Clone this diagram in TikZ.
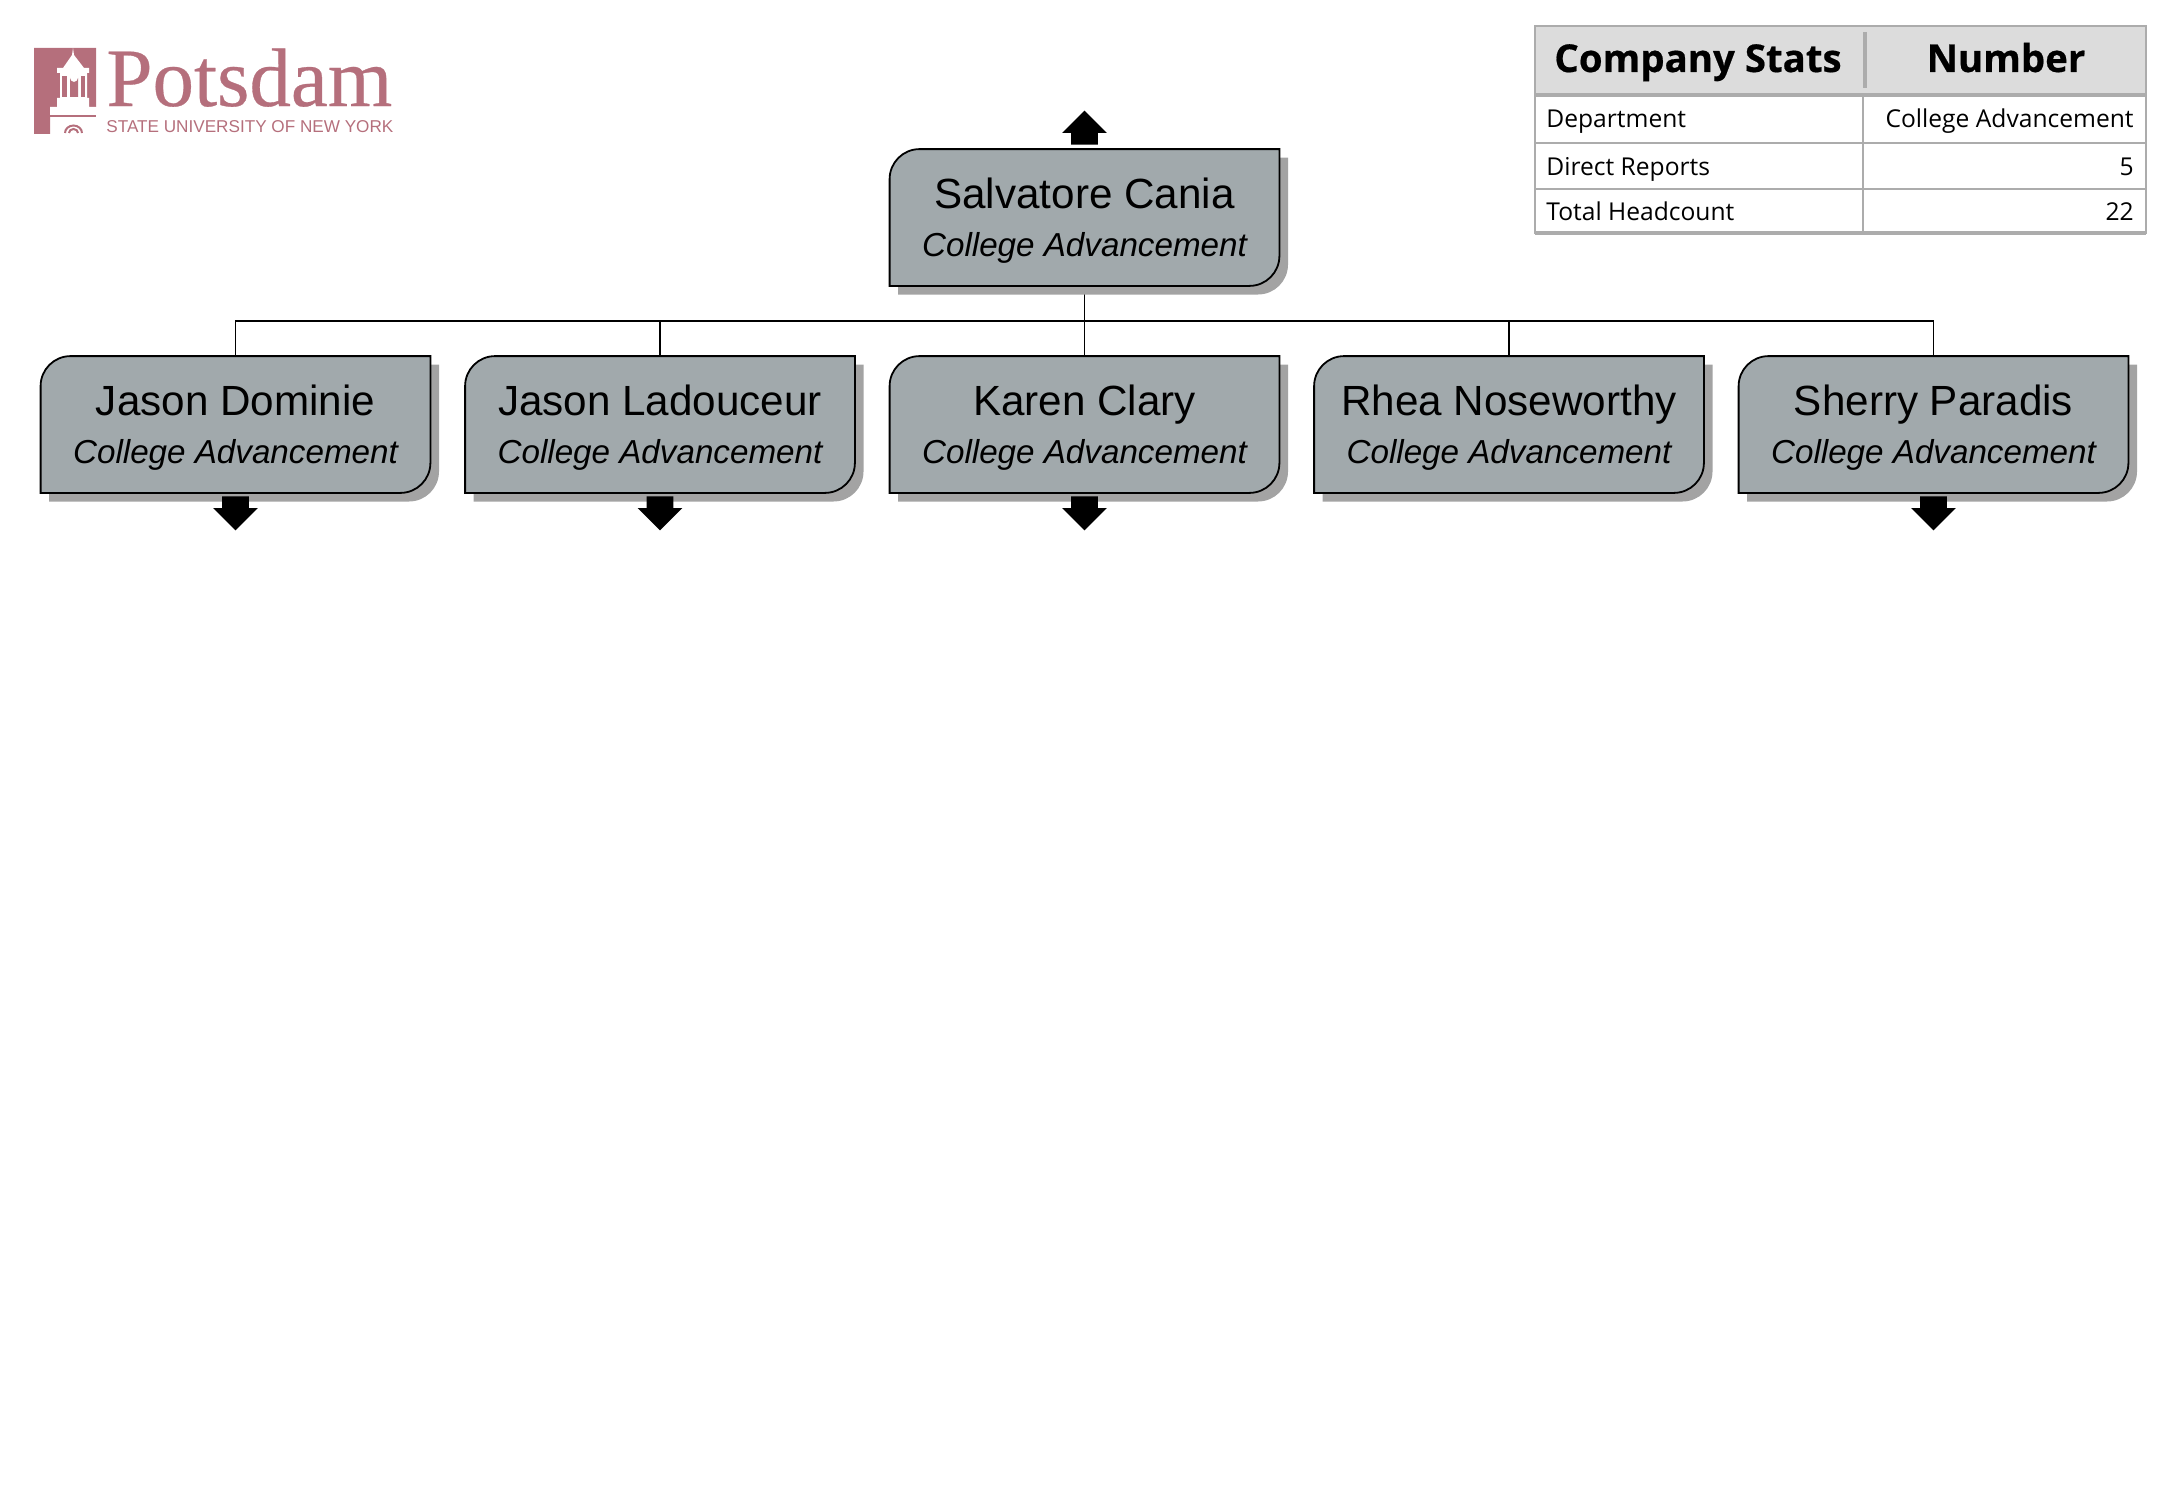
\documentclass[tikz,border=0pt]{standalone}
\usepackage{fontspec}
\setmainfont{Liberation Sans}
\newfontfamily\statsfont{Open Sans}
\newfontfamily\statsheadfont[FakeBold=0.5]{Open Sans Bold}
\newfontfamily\logofont[FakeBold=0.35]{Liberation Serif}
\usepackage{tikz}
\usetikzlibrary{shapes,backgrounds}
\definecolor{boxgray}{HTML}{A1A9AC}
\definecolor{shadegray}{HTML}{A3A3A3}
\definecolor{headgray}{HTML}{DCDCDC}
\definecolor{rulegray}{HTML}{ACACAC}
\definecolor{logopink}{HTML}{B56F7C}
\pgfdeclarelayer{wires}
\pgfsetlayers{wires,background,main}

% one person box: name, x, y, person
\newcommand{\personbox}[4]{
	\node[org-node] (#1) at (#2,#3) {\rule{0pt}{18.5pt}#4\\[-0.3pt]{\fontsize{16.6}{18}\selectfont\itshape College Advancement}};
	\begin{pgfonlayer}{background}
		\fill[shadegray,rounded corners=15pt] ([shift={(4.3pt,-4.3pt)}]#1.north west) {[sharp corners] -- ([shift={(4.3pt,-4.3pt)}]#1.north east)} -- ([shift={(4.3pt,-4.3pt)}]#1.south east) {[sharp corners] -- ([shift={(4.3pt,-4.3pt)}]#1.south west)} -- cycle;
		\draw[fill=boxgray,line width=0.9pt,rounded corners=15pt] (#1.south west) -- (#1.north west) {[sharp corners] -- (#1.north east)} -- (#1.south east) {[sharp corners] -- (#1.south west)} -- cycle;
	\end{pgfonlayer}
}

\begin{document}
\begin{tikzpicture}[x=0.5pt,y=-0.5pt]

	\tikzstyle{org-node}=[align=center,inner sep=0pt,minimum width=194.5pt,minimum height=68pt,font=\fontsize{21.1}{24}\selectfont]
	\tikzstyle{up-arrow}=[single arrow,fill=black,inner xsep=0pt,inner ysep=6.5pt,minimum width=22pt,minimum height=17pt,single arrow head extend=4.5pt,rotate=90,anchor=tip]
	\tikzstyle{down-arrow}=[up-arrow,rotate=180]
	\tikzstyle{stat-head}=[font=\statsheadfont\fontsize{19.2}{20}\selectfont,inner sep=0pt,anchor=base]
	\tikzstyle{stat-left}=[font=\statsfont\fontsize{12.3}{14}\selectfont,inner sep=0pt,anchor=base west]
	\tikzstyle{stat-right}=[font=\statsfont\fontsize{12.3}{14}\selectfont,inner sep=0pt,anchor=base east]

	\useasboundingbox (0,0) rectangle (2167,1504);

	% logo
	\fill[logopink] (34,48) -- (96,48) -- (96,107) -- (50,107) -- (50,134) -- (34,134) -- cycle;
	\fill[logopink] (50,115) rectangle (96,117);
	\fill[white] (73,48) -- (74,55) -- (84,68) -- (89,68) -- (89,73) -- (87,73) -- (87,98) -- (89,98) -- (89,107) -- (96,107) -- (96,115) -- (50,115) -- (50,107) -- (57,107) -- (57,98) -- (60,98) -- (60,73) -- (57,73) -- (57,68) -- (63,68) -- (72,55) -- cycle;
	\fill[logopink] (62,76) rectangle (67,97);
	\fill[logopink] (70,97) -- (70,78) arc[start angle=180,end angle=0,radius=4] -- (78,97) -- cycle;
	\fill[logopink] (81,76) rectangle (85,97);
	\draw[logopink,line width=1pt] (65,133) arc[start angle=180,end angle=0,x radius=8.5,y radius=-7.5];
	\draw[logopink,line width=1pt] (69,133) arc[start angle=180,end angle=0,x radius=4.5,y radius=-4];
	\node[font=\logofont\fontsize{41.5}{44}\selectfont,text=logopink,inner sep=0pt,anchor=base west] (logoname) at (106,106) {Potsdam};
	\node[font=\fontsize{8.57}{10}\selectfont,text=logopink,inner sep=0pt,anchor=base west] (logosub) at (106,133) {STATE UNIVERSITY OF NEW YORK};

	% stats table
	\fill[headgray] (1535,26) rectangle (2146,95);
	\draw[rulegray,line width=1.2pt] (1535,26) rectangle (2146,233);
	\draw[rulegray,line width=1.7pt] (1535,95) -- (2146,95);
	\draw[rulegray,line width=1.7pt] (1535,233) -- (2146,233);
	\draw[rulegray,line width=1pt] (1535,143) -- (2146,143);
	\draw[rulegray,line width=1pt] (1535,189) -- (2146,189);
	\draw[rulegray,line width=1.7pt] (1865,32) -- (1865,88);
	\draw[rulegray,line width=1pt] (1863,95) -- (1863,233);
	\node[stat-head] (stathead0) at (1698,72) {Company Stats};
	\node[stat-head] (stathead1) at (2006,72) {Number};
	\node[stat-left] (stat0) at (1546,127) {Department};
	\node[stat-left] (stat1) at (1546,175) {Direct Reports};
	\node[stat-left] (stat2) at (1546,220) {Total Headcount};
	\node[stat-right] (num0) at (2134,127) {College Advancement};
	\node[stat-right] (num1) at (2134,175) {5};
	\node[stat-right] (num2) at (2134,220) {22};

	% people
	\personbox{sc}{1084.5}{217.5}{Salvatore Cania}
	\personbox{jd}{235.5}{424.5}{Jason Dominie}
	\personbox{jl}{660}{424.5}{Jason Ladouceur}
	\personbox{kc}{1084.5}{424.5}{Karen Clary}
	\personbox{rn}{1509}{424.5}{Rhea Noseworthy}
	\personbox{sp}{1933.5}{424.5}{Sherry Paradis}

	% connectors
	\coordinate (bus) at (1084.5,321);
	\begin{pgfonlayer}{wires}
		\draw[line width=0.5pt] (sc.south) -- (kc.north);
		\draw[line width=0.8pt] (bus) -| (jd.north);
		\draw[line width=0.8pt] (bus) -| (jl.north);
		\draw[line width=0.8pt] (bus) -| (rn.north);
		\draw[line width=0.8pt] (bus) -| (sp.north);
	\end{pgfonlayer}

	% arrows
	\node[up-arrow] (arrowsc) at (1084.5,110) {};
	\node[down-arrow] (arrowjd) at (235.5,531) {};
	\node[down-arrow] (arrowjl) at (660,531) {};
	\node[down-arrow] (arrowkc) at (1084.5,531) {};
	\node[down-arrow] (arrowsp) at (1933.5,531) {};
\end{tikzpicture}
\end{document}
